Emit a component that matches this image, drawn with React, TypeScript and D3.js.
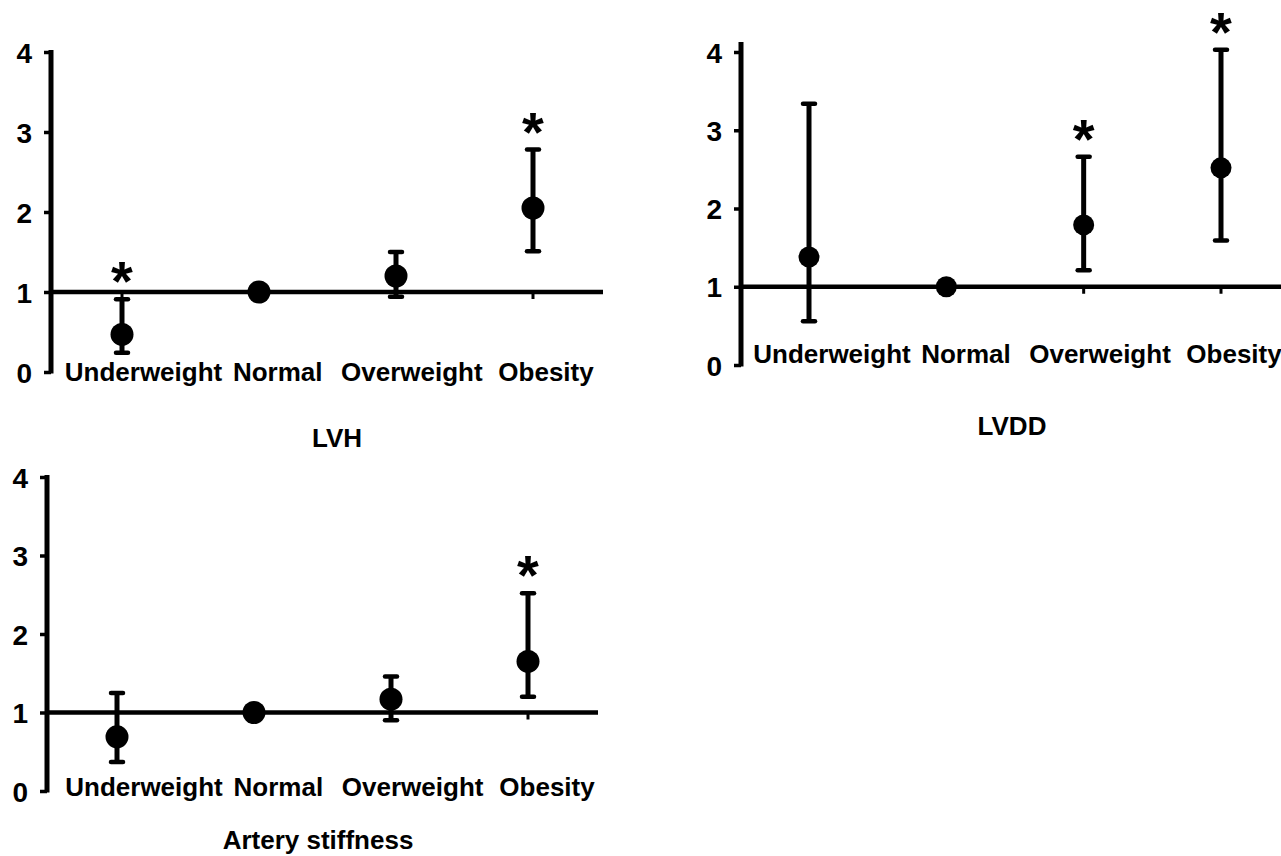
import React, { useEffect, useRef } from 'react';
import * as d3 from 'd3';

// Categories and axis ticks shared by the three panels
const categories = ['Underweight', 'Normal', 'Overweight', 'Obesity'];
const yTicks = [0, 1, 2, 3, 4];

// LVH
const lvhValues = [0.47, 1.0, 1.2, 2.05];
const lvhLower = [0.24, null, 0.94, 1.51];
const lvhUpper = [0.91, null, 1.5, 2.78];
const lvhStars = [true, false, false, true];

// LVDD
const lvddValues = [1.38, 1.0, 1.79, 2.52];
const lvddLower = [0.56, null, 1.21, 1.59];
const lvddUpper = [3.34, null, 2.66, 4.03];
const lvddStars = [false, false, true, true];

// Artery stiffness
const asValues = [0.69, 1.0, 1.17, 1.65];
const asLower = [0.37, null, 0.9, 1.2];
const asUpper = [1.25, null, 1.46, 2.52];
const asStars = [false, false, false, true];

const FONT = '"Liberation Sans", Arial, Helvetica, sans-serif';

interface PanelConfig {
  title: string;
  values: number[];
  lower: (number | null)[];
  upper: (number | null)[];
  stars: boolean[];
  axisX: number;
  lineEnd: number;
  xRange: [number, number];
  yRange: [number, number];
  axisTop: number;
  labelRange: [number, number];
  labelY: number;
  titleX: number;
  titleY: number;
  dotR: number;
}

const panels: PanelConfig[] = [
  {
    title: 'LVH',
    values: lvhValues,
    lower: lvhLower,
    upper: lvhUpper,
    stars: lvhStars,
    axisX: 51,
    lineEnd: 603,
    xRange: [122, 533],
    yRange: [372, 52],
    axisTop: 50,
    labelRange: [143.5, 546],
    labelY: 381,
    titleX: 337,
    titleY: 447,
    dotR: 11.5,
  },
  {
    title: 'LVDD',
    values: lvddValues,
    lower: lvddLower,
    upper: lvddUpper,
    stars: lvddStars,
    axisX: 741,
    lineEnd: 1281,
    xRange: [809, 1221],
    yRange: [365, 52],
    axisTop: 42,
    labelRange: [832, 1234],
    labelY: 363,
    titleX: 1012,
    titleY: 435,
    dotR: 10.5,
  },
  {
    title: 'Artery stiffness',
    values: asValues,
    lower: asLower,
    upper: asUpper,
    stars: asStars,
    axisX: 47,
    lineEnd: 598,
    xRange: [117, 528],
    yRange: [791, 477],
    axisTop: 475,
    labelRange: [144, 547],
    labelY: 796,
    titleX: 318,
    titleY: 849,
    dotR: 11.5,
  },
];

const App: React.FC = () => {
  const svgRef = useRef<SVGSVGElement>(null);

  useEffect(() => {
    if (!svgRef.current) return;

    const svg = d3.select(svgRef.current);
    svg.selectAll('*').remove();

    svg.append('rect').attr('width', 1281).attr('height', 856).attr('fill', '#fff');

    panels.forEach((p) => {
      const g = svg.append('g');

      const x = d3.scalePoint<string>().domain(categories).range(p.xRange);
      const y = d3.scaleLinear().domain([0, 4]).range(p.yRange);
      const labelX = d3.scalePoint<string>().domain(categories).range(p.labelRange);

      // Y axis ticks and labels
      const axis = g
        .append('g')
        .attr('transform', `translate(${p.axisX},0)`)
        .call(
          d3.axisLeft(y).tickValues(yTicks).tickFormat(d3.format('d')).tickSize(7).tickSizeOuter(0).tickPadding(12)
        );
      axis.select('.domain').remove();
      axis.selectAll('.tick line').attr('stroke', '#000').attr('stroke-width', 3.5);
      axis
        .selectAll('.tick text')
        .attr('fill', '#000')
        .attr('dy', '0.36em')
        .style('font-family', FONT)
        .style('font-size', '28px')
        .style('font-weight', 'bold');

      // Axis line
      g.append('line')
        .attr('x1', p.axisX)
        .attr('x2', p.axisX)
        .attr('y1', p.axisTop)
        .attr('y2', y(0) + 1.5)
        .attr('stroke', '#000')
        .attr('stroke-width', 5);

      // Reference line at 1
      g.append('line')
        .attr('x1', p.axisX)
        .attr('x2', p.lineEnd)
        .attr('y1', y(1))
        .attr('y2', y(1))
        .attr('stroke', '#000')
        .attr('stroke-width', 4.5);

      // Category ticks
      g.selectAll('.xtick')
        .data(categories)
        .enter()
        .append('line')
        .attr('x1', (d) => x(d)!)
        .attr('x2', (d) => x(d)!)
        .attr('y1', y(1))
        .attr('y2', y(1) + 7)
        .attr('stroke', '#000')
        .attr('stroke-width', 3);

      const rows = categories.map((c, i) => ({
        c,
        v: p.values[i],
        lo: p.lower[i],
        hi: p.upper[i],
        star: p.stars[i],
      }));
      const withErr = rows.filter((r) => r.lo !== null && r.hi !== null);

      // Error bars
      g.selectAll('.err')
        .data(withErr)
        .enter()
        .append('line')
        .attr('x1', (d) => x(d.c)!)
        .attr('x2', (d) => x(d.c)!)
        .attr('y1', (d) => y(d.lo!))
        .attr('y2', (d) => y(d.hi!))
        .attr('stroke', '#000')
        .attr('stroke-width', 5);

      const caps = withErr.flatMap((d) => [
        { c: d.c, v: d.lo! },
        { c: d.c, v: d.hi! },
      ]);
      g.selectAll('.cap')
        .data(caps)
        .enter()
        .append('line')
        .attr('x1', (d) => x(d.c)! - 6)
        .attr('x2', (d) => x(d.c)! + 6)
        .attr('y1', (d) => y(d.v))
        .attr('y2', (d) => y(d.v))
        .attr('stroke', '#000')
        .attr('stroke-width', 4.5)
        .attr('stroke-linecap', 'round');

      // Points
      g.selectAll('.dot')
        .data(rows)
        .enter()
        .append('circle')
        .attr('cx', (d) => x(d.c)!)
        .attr('cy', (d) => y(d.v))
        .attr('r', p.dotR)
        .attr('fill', '#000');

      // Significance stars
      const starSize = 56;
      g.selectAll('.star')
        .data(rows.filter((r) => r.star))
        .enter()
        .append('text')
        .attr('x', (d) => x(d.c)!)
        .attr('y', (d) => y(d.hi!) - 24 + starSize * 0.45)
        .attr('text-anchor', 'middle')
        .style('font-family', FONT)
        .style('font-size', `${starSize}px`)
        .style('font-weight', 'bold')
        .attr('fill', '#000')
        .text('*');

      // Category labels
      g.selectAll('.label')
        .data(categories)
        .enter()
        .append('text')
        .attr('x', (d) => labelX(d)!)
        .attr('y', p.labelY)
        .attr('text-anchor', 'middle')
        .style('font-family', FONT)
        .style('font-size', '26px')
        .style('font-weight', 'bold')
        .attr('fill', '#000')
        .text((d) => d);

      // Panel title
      g.append('text')
        .attr('x', p.titleX)
        .attr('y', p.titleY)
        .attr('text-anchor', 'middle')
        .style('font-family', FONT)
        .style('font-size', '26px')
        .style('font-weight', 'bold')
        .attr('fill', '#000')
        .text(p.title);
    });
  }, []);

  return (
    <svg
      ref={svgRef}
      width={1281}
      height={856}
      style={{ position: 'absolute', left: 0, top: 0, display: 'block' }}
    ></svg>
  );
};

export default App;
